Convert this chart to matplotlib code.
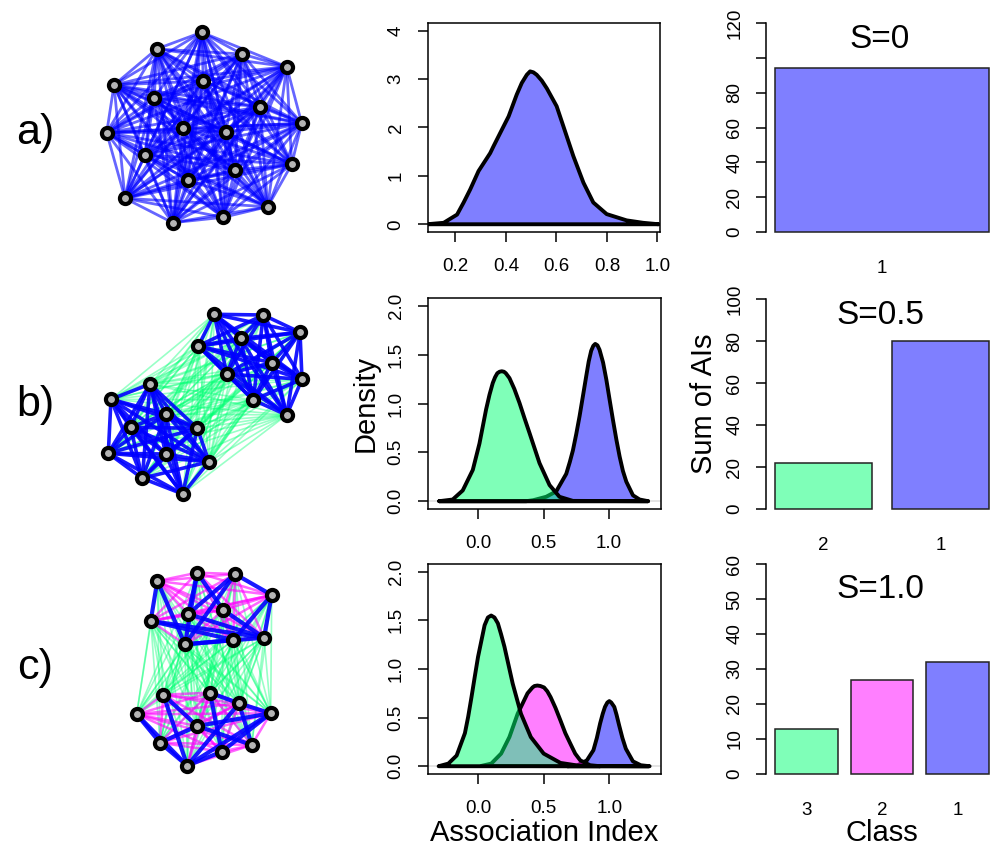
import matplotlib

matplotlib.use("Agg")
import matplotlib.pyplot as plt
from matplotlib.collections import LineCollection

plt.rcParams["font.family"] = ["Liberation Sans", "DejaVu Sans"]

W, H = 993, 851

# ---- network layouts (node positions, left column) ----
net_a_x = [201.7, 156.7, 241.7, 286.7, 114.0, 203.3, 154.3, 260.0, 301.7, 106.7,
           183.3, 225.7, 145.0, 291.7, 235.0, 187.7, 125.0, 267.7, 223.3, 172.7]
net_a_y = [32.3, 49.0, 54.0, 66.7, 85.0, 81.0, 97.7, 106.7, 123.3, 132.7,
           128.3, 131.7, 155.0, 164.3, 170.0, 180.0, 198.3, 206.7, 217.3, 222.7]

net_b_x = [214.3, 263.3, 300.0, 240.7, 198.3, 271.7, 302.0, 226.7, 253.3, 286.7,
           150.0, 111.0, 166.0, 130.7, 197.3, 108.3, 165.7, 209.0, 142.3, 182.7]
net_b_y = [314.3, 315.0, 332.3, 338.3, 346.0, 362.7, 379.3, 374.0, 400.0, 415.0,
           384.0, 399.3, 414.0, 427.3, 428.3, 453.3, 454.0, 461.7, 478.3, 494.0]
net_b_group = [1] * 10 + [2] * 10

net_c_x = [197.3, 235.0, 157.3, 271.7, 223.3, 188.3, 150.7, 264.0, 233.3, 185.0,
           210.0, 163.3, 239.0, 136.7, 270.7, 197.3, 160.0, 251.7, 221.7, 187.3]
net_c_y = [572.7, 574.0, 581.0, 595.0, 610.0, 614.0, 621.0, 637.7, 640.0, 644.3,
           692.7, 694.7, 703.3, 714.3, 713.3, 726.0, 742.7, 745.0, 751.7, 765.7]
net_c_group = [1] * 10 + [2] * 10
# class-1 (strong) ties in network c, 1-based node numbers
net_c_blue = [(1, 10), (1, 5), (1, 6), (2, 4), (2, 6), (2, 10), (3, 7), (3, 10),
              (4, 8), (4, 9), (5, 8), (6, 8), (7, 8), (7, 9), (8, 10), (9, 10),
              (12, 20), (14, 20), (17, 20), (11, 19), (11, 13), (13, 15), (13, 20),
              (15, 16), (15, 20), (15, 19), (16, 17), (12, 16), (19, 20), (13, 18),
              (14, 17), (16, 18)]

# ---- density curves (association index) ----
dens_a_x = [0.088, 0.154, 0.207, 0.233, 0.259, 0.292, 0.338, 0.351, 0.378, 0.411,
            0.443, 0.463, 0.483, 0.496, 0.509, 0.522, 0.542, 0.562, 0.601, 0.628,
            0.667, 0.707, 0.746, 0.799, 0.878, 0.943, 1.005]
dens_a_y = [0.0, 0.03, 0.2, 0.45, 0.72, 1.10, 1.47, 1.61, 1.89, 2.23,
            2.68, 2.92, 3.09, 3.16, 3.14, 3.09, 2.97, 2.81, 2.44, 2.02,
            1.41, 0.86, 0.45, 0.21, 0.08, 0.03, 0.0]

dens_b_green_x = [-0.30, -0.197, -0.12, -0.043, 0.008, 0.059, 0.085, 0.110, 0.128,
                  0.145, 0.162, 0.179, 0.196, 0.210, 0.238, 0.275, 0.315, 0.353,
                  0.391, 0.468, 0.545, 0.621, 0.724, 1.30]
dens_b_green_y = [0.0, 0.017, 0.11, 0.32, 0.59, 0.94, 1.09, 1.21, 1.27,
                  1.31, 1.325, 1.33, 1.325, 1.31, 1.26, 1.15, 1.005, 0.85,
                  0.70, 0.39, 0.165, 0.045, 0.003, 0.0]
dens_b_blue_x = [-0.30, 0.366, 0.42, 0.519, 0.596, 0.673, 0.70, 0.724, 0.75, 0.775,
                 0.80, 0.826, 0.845, 0.864, 0.88, 0.895, 0.912, 0.928, 0.955, 0.98,
                 1.005, 1.031, 1.057, 1.082, 1.107, 1.133, 1.184, 1.235, 1.30]
dens_b_blue_y = [0.0, 0.0, 0.01, 0.045, 0.10, 0.28, 0.40, 0.52, 0.69, 0.87,
                 1.07, 1.28, 1.43, 1.54, 1.59, 1.61, 1.595, 1.55, 1.42, 1.245,
                 1.04, 0.83, 0.63, 0.456, 0.31, 0.20, 0.06, 0.017, 0.0]

dens_c_green_x = [-0.30, -0.226, -0.163, -0.10, -0.075, -0.05, -0.025, 0.0, 0.05,
                  0.075, 0.10, 0.125, 0.151, 0.175, 0.201, 0.264, 0.327, 0.402,
                  0.50, 0.628, 0.779, 1.30]
dens_c_green_y = [0.0, 0.027, 0.11, 0.34, 0.51, 0.71, 0.92, 1.125, 1.45,
                  1.53, 1.55, 1.53, 1.47, 1.36, 1.23, 0.85, 0.54, 0.30,
                  0.13, 0.034, 0.003, 0.0]
dens_c_pink_x = [0.025, 0.101, 0.176, 0.239, 0.302, 0.377, 0.415, 0.43, 0.452, 0.475,
                 0.503, 0.528, 0.553, 0.59, 0.628, 0.665, 0.704, 0.74, 0.779, 0.854,
                 0.93]
dens_c_pink_y = [0.003, 0.027, 0.13, 0.30, 0.54, 0.75, 0.81, 0.825, 0.83, 0.825,
                 0.81, 0.77, 0.71, 0.60, 0.47, 0.34, 0.23, 0.13, 0.06, 0.01,
                 0.0]
dens_c_blue_x = [0.68, 0.754, 0.829, 0.879, 0.905, 0.93, 0.95, 0.967, 0.985, 1.0,
                 1.015, 1.038, 1.055, 1.075, 1.10, 1.126, 1.18, 1.24, 1.307]
dens_c_blue_y = [0.0, 0.007, 0.06, 0.165, 0.29, 0.44, 0.54, 0.61, 0.655, 0.67,
                 0.655, 0.61, 0.53, 0.42, 0.29, 0.18, 0.05, 0.01, 0.0]

# ---- sums of AIs per class ----
bar_a_labels = ["1"]
bar_a_vals = [94]
bar_b_labels = ["2", "1"]
bar_b_vals = [22, 80]
bar_c_labels = ["3", "2", "1"]
bar_c_vals = [13, 27, 32]

BLUE = (0, 0, 1)
GREEN = (0, 1, 0.45)
PINK = (1, 0, 1)

bar_a_cols = [BLUE]
bar_b_cols = [GREEN, BLUE]
bar_c_cols = [GREEN, PINK, BLUE]


def px_axes(fig, left, top, right, bottom):
    return fig.add_axes([left / W, 1 - bottom / H, (right - left) / W, (bottom - top) / H])


def fade(c, a=0.5):
    return (c[0], c[1], c[2], a)


fig = plt.figure(figsize=(W / 100, H / 100), dpi=100)

# ---------------- networks ----------------
net = fig.add_axes([0, 0, 340 / W, 1])
net.set_xlim(0, 340)
net.set_ylim(H, 0)
net.axis("off")


def draw_net(xs, ys, kind, style):
    n = len(xs)
    layers = {"g": [], "p": [], "b": []}
    for i in range(n):
        for j in range(i + 1, n):
            layers[kind(i, j)].append([(xs[i], ys[i]), (xs[j], ys[j])])
    for key in ["g", "p", "b"]:
        if layers[key]:
            col, a, lw = style[key]
            net.add_collection(LineCollection(layers[key], colors=[fade(col, a)],
                                              linewidths=lw, capstyle="round"))
    net.plot(xs, ys, "o", ms=8.0, mfc="#B4B4B4", mec="black", mew=3.0, zorder=5)


draw_net(net_a_x, net_a_y, lambda i, j: "b", {"b": (BLUE, 0.6, 2.0)})
draw_net(net_b_x, net_b_y,
         lambda i, j: "b" if net_b_group[i] == net_b_group[j] else "g",
         {"g": (GREEN, 0.4, 1.2), "b": (BLUE, 0.9, 2.6)})
blue_c = {(a - 1, b - 1) for a, b in net_c_blue} | {(b - 1, a - 1) for a, b in net_c_blue}


def kind_c(i, j):
    if (i, j) in blue_c:
        return "b"
    return "p" if net_c_group[i] == net_c_group[j] else "g"


draw_net(net_c_x, net_c_y, kind_c,
         {"g": (GREEN, 0.4, 1.2), "p": (PINK, 0.6, 1.8), "b": (BLUE, 0.9, 3.0)})

for lab, yy in [("a)", 133), ("b)", 405), ("c)", 668)]:
    fig.text(35 / W, 1 - yy / H, lab, fontsize=31, ha="center", va="center")

TICK_FS = 13.5


# ---------------- density panels ----------------
def style_density(ax, xlim, ylim, xt, xl, yt, yl):
    ax.set_xlim(*xlim)
    ax.set_ylim(*ylim)
    ax.set_xticks(xt, xl, fontsize=TICK_FS)
    ax.set_yticks(yt, yl, rotation=90, va="center", fontsize=TICK_FS)
    ax.tick_params(direction="out", length=7.5, width=1.1)
    ax.tick_params(axis="x", pad=11)
    ax.tick_params(axis="y", pad=9)
    for s in ax.spines.values():
        s.set_linewidth(1.1)
    ax.axhline(0, color="gray", lw=0.3, zorder=0)


def draw_dens(ax, x, y, col):
    ax.fill(x, y, facecolor=fade(col), edgecolor="black", linewidth=2.8,
            joinstyle="round")


ax = px_axes(fig, 427.5, 23, 659.5, 232)
draw_dens(ax, dens_a_x, dens_a_y, BLUE)
style_density(ax, (0.09, 1.008), (-0.16, 4.16), [0.2, 0.4, 0.6, 0.8, 1.0],
              ["0.2", "0.4", "0.6", "0.8", "1.0"], [0, 1, 2, 3, 4], ["0", "1", "2", "3", "4"])

yt2 = [0, 0.5, 1.0, 1.5, 2.0]
yl2 = ["0.0", "0.5", "1.0", "1.5", "2.0"]
ax = px_axes(fig, 427.5, 298, 660.5, 509)
draw_dens(ax, dens_b_blue_x, dens_b_blue_y, BLUE)
draw_dens(ax, dens_b_green_x, dens_b_green_y, GREEN)
style_density(ax, (-0.39, 1.395), (-0.08, 2.08), [0, 0.5, 1.0], ["0.0", "0.5", "1.0"], yt2, yl2)
ax.set_ylabel("Density", fontsize=21, labelpad=6)

ax = px_axes(fig, 427.5, 564, 660.5, 774)
draw_dens(ax, dens_c_blue_x, dens_c_blue_y, BLUE)
draw_dens(ax, dens_c_pink_x, dens_c_pink_y, PINK)
draw_dens(ax, dens_c_green_x, dens_c_green_y, GREEN)
style_density(ax, (-0.385, 1.39), (-0.08, 2.08), [0, 0.5, 1.0], ["0.0", "0.5", "1.0"], yt2, yl2)
ax.set_xlabel("Association Index", fontsize=21, labelpad=2)


# ---------------- bar panels ----------------
def draw_bars(top, bottom, labels, vals, cols, ymax, ystep, hide=(), title="", title_y=0):
    ax = px_axes(fig, 766.4, top, 997.6, bottom)
    n = len(vals)
    w = n * 1.2 - 0.2
    centers = [0.7 + 1.2 * i for i in range(n)]
    ax.bar(centers, vals, width=1.0, color=[fade(c) for c in cols],
           edgecolor="#222222", linewidth=1.1)
    ax.set_xlim(0.2 - 0.04 * w, n * 1.2 + 0.04 * w)
    ax.set_ylim(-0.04 * ymax, 1.04 * ymax)
    ticks = list(range(0, ymax + 1, ystep))
    ax.set_yticks(ticks, ["" if t in hide else str(t) for t in ticks],
                  rotation=90, va="center", fontsize=TICK_FS)
    ax.set_xticks(centers, labels, fontsize=TICK_FS)
    for s in ["top", "right", "bottom"]:
        ax.spines[s].set_visible(False)
    ax.spines["left"].set_bounds(0, ymax)
    ax.spines["left"].set_linewidth(1.1)
    ax.tick_params(axis="y", direction="out", length=7.5, width=1.1, pad=9)
    ax.tick_params(axis="x", length=0, pad=14)
    fig.text(880 / W, 1 - title_y / H, title, fontsize=24, ha="center", va="center")
    return ax


draw_bars(14.6, 240.4, bar_a_labels, bar_a_vals, bar_a_cols, 120, 20, hide=(100,),
          title="S=0", title_y=39)
ax = draw_bars(290.6, 517.4, bar_b_labels, bar_b_vals, bar_b_cols, 100, 20,
               title="S=0.5", title_y=316)
ax.set_ylabel("Sum of AIs", fontsize=21, labelpad=6)
ax = draw_bars(555.6, 782.4, bar_c_labels, bar_c_vals, bar_c_cols, 60, 10,
               title="S=1.0", title_y=590)
ax.set_xlabel("Class", fontsize=21, labelpad=0)

fig.savefig("out.png", dpi=100)
plt.close(fig)
